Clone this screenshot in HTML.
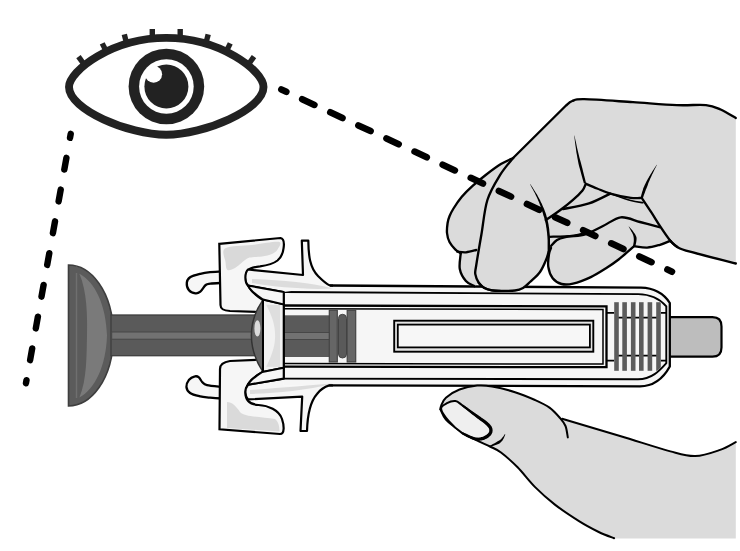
<!DOCTYPE html>
<html><head><meta charset="utf-8">
<style>
html,body{margin:0;padding:0;background:#fff;}
body{width:740px;height:551px;overflow:hidden;font-family:"Liberation Sans",sans-serif;}
svg{display:block;}
</style></head>
<body>
<svg width="740" height="551" viewBox="0 0 740 551">
<rect width="740" height="551" fill="#fff"/>

<!-- dashed line left -->
<path d="M70.73,133.84 L25.95,383.23" stroke="#000" stroke-width="6.4" stroke-linecap="round" stroke-dasharray="12 20.27" stroke-dashoffset="7.9" fill="none"/>

<!-- syringe -->
<path d="M68.5,265 C90,265 113,290 113.5,335.5 C113,381 90,406 68.5,406 Z" fill="#5b5b5b" stroke="#3e3e3e" stroke-width="1.6"/>
<path d="M79.4,273.8 C95,282 106,305 107,335.5 C106,366 95,389 79.4,397.5 C87,380 86.5,355 87,335.5 C87.5,316 87,291 79.4,273.8 Z" fill="#7a7a7a"/>
<path d="M76.5,273 L76.5,398" stroke="#6f6f6f" stroke-width="1.4"/>
<rect x="111" y="315" width="222" height="40.7" fill="#5a5a5a" stroke="#3e3e3e" stroke-width="1.3"/>
<rect x="111.7" y="332" width="220.6" height="7.2" fill="#727272" stroke="#474747" stroke-width="1"/>
<path d="M660,317.2 L712.5,317.2 Q721.5,317.2 721.5,326.5 L721.5,347.5 Q721.5,356.7 712.5,356.7 L660,356.7 Z" fill="#bdbdbd" stroke="#000" stroke-width="2.2"/>
<path d="M283.7,292 L330,285.5 L640.9,287.7 C655,288 664,294 669.8,303 L669.8,366.5 C664,377 655,386.3 640,386.3 L283.7,385.4 Z" fill="#f6f6f6"/>
<path d="M330,285.5 L640.9,287.7 C655,288 664,294 669.8,303 L669.8,366.5 C664,377 655,386.3 640,386.3 L329,385.4" fill="none" stroke="#000" stroke-width="2.3"/>
<path d="M283.7,292 L638.1,294.1 C650,294.3 660,299 666.3,306.3 L666.3,363.1 C660,370 652,379.3 638,379.3 L283.7,378.6" fill="none" stroke="#000" stroke-width="1.9"/>
<rect x="283.7" y="315.3" width="46" height="41.7" fill="#5a5a5a"/>
<rect x="283.7" y="332.5" width="46" height="7" fill="#727272" stroke="#474747" stroke-width="1"/>
<path d="M283.7,305.5 L606.5,306.3 L606.5,367.2 L283.7,366.7" fill="none" stroke="#000" stroke-width="2.3"/>
<path d="M283.7,308.8 L603,309.6 L603,364 L283.7,363.6" fill="none" stroke="#000" stroke-width="1.5"/>
<rect x="329.3" y="310.3" width="8" height="51.7" fill="#666" stroke="#444" stroke-width="1.2"/>
<rect x="338.5" y="314.3" width="8" height="43.7" rx="4" fill="#5a5a5a" stroke="#444" stroke-width="1"/>
<rect x="347.2" y="310.3" width="8.5" height="51.7" fill="#666" stroke="#444" stroke-width="1.2"/>
<rect x="394.2" y="320.7" width="199.1" height="31" fill="#e4e4e4" stroke="#000" stroke-width="1.9"/>
<rect x="397.8" y="324.6" width="192.1" height="22.8" fill="#f7f7f7" stroke="#000" stroke-width="1.8"/>
<defs><clipPath id="ribclip"><path d="M600,295 L638.1,295.1 C650,295.3 659.5,300 665.3,307 L665.3,362.6 C659.5,369 652,378.3 638,378.3 L600,378 Z"/></clipPath></defs>
<path d="M606.6,312.8 L614.2,312.8 M660.8,312.8 L666,312.8 M606.6,360.7 L614.2,360.7 M660.8,360.7 L666,360.7" stroke="#000" stroke-width="1.7"/>
<path d="M618,317.6 L657,317.6 M618,355.6 L657,355.6" stroke="#000" stroke-width="1.8"/>

<g fill="#5c5c5c" clip-path="url(#ribclip)"><rect x="614.2" y="302.2" width="4.6" height="68.6"/><rect x="622.3" y="302.2" width="4.6" height="68.6"/><rect x="630.9" y="302.2" width="4.6" height="68.6"/><rect x="639.0" y="302.2" width="4.6" height="68.6"/><rect x="647.6" y="302.2" width="4.6" height="68.6"/><rect x="656.2" y="302.2" width="4.6" height="68.6"/></g>
<path d="M283.7,292 L283.7,378.6" stroke="#000" stroke-width="2.2"/>
<path d="M222.0,271.3 C220.0,271.4 213.6,271.8 210.0,272.2 C206.4,272.6 203.6,273.0 200.3,273.8 C197.0,274.6 192.3,275.7 190.1,277.2 C187.8,278.7 187.0,280.5 186.8,282.6 C186.6,284.7 187.4,288.2 188.8,290.0 C190.2,291.8 193.6,293.1 195.5,293.4 C197.4,293.7 198.6,293.1 200.3,291.7 C202.0,290.3 204.0,286.4 205.7,285.0 C207.4,283.6 207.7,284.0 210.4,283.6 C213.1,283.2 220.1,283.0 222.0,282.9" fill="#f6f6f6" stroke="#000" stroke-width="2.3"/>
<path d="M222.0,387.0 C219.5,386.7 210.3,386.0 207.0,385.2 C203.7,384.4 203.7,383.5 202.3,382.2 C201.0,380.9 200.1,378.4 198.9,377.4 C197.7,376.4 196.6,375.9 194.9,376.4 C193.2,376.8 190.2,378.4 188.8,380.1 C187.4,381.9 186.2,384.8 186.4,386.9 C186.6,389.0 187.8,391.4 190.1,393.0 C192.4,394.6 197.0,395.6 200.3,396.4 C203.6,397.2 206.4,397.2 210.0,397.6 C213.6,398.0 220.0,398.4 222.0,398.5" fill="#f6f6f6" stroke="#000" stroke-width="2.3"/>
<path d="M219.3,243.8 L280.5,238 C283.5,238.5 284.3,243 283.6,248 C283,254 280.5,258 277.5,260.5 C273,264 268,265.3 260,266.3 C253,267 249,268.5 247.4,270.8 C246,273 246.3,276 246.5,278 C246.5,287 253,294 263,300 L263,312 L230,311 C223,310.5 220.5,309 220.5,305 Z" fill="#f6f6f6" stroke="#000" stroke-width="2.2"/>
<path d="M225.3,248.3 C229.7,245.5 243.1,246.1 252.0,245.0 C260.9,243.9 274.4,241.1 278.6,241.8 C282.9,242.6 278.6,247.5 277.5,249.5 C276.4,251.5 274.6,252.8 272.0,254.0 C269.4,255.2 265.8,255.9 262.0,256.5 C258.2,257.1 252.7,256.6 249.4,257.6 C246.1,258.6 244.4,260.8 242.0,262.5 C239.6,264.2 237.4,266.8 235.0,268.0 C232.6,269.2 229.1,271.0 227.5,270.0 C225.9,269.0 225.9,265.6 225.5,262.0 C225.1,258.4 220.9,251.1 225.3,248.3 Z" fill="#d9d9d9"/>
<path d="M263,359.5 L230,361 C223,362 220,365 220,369 L219.5,429.3 L280,434 C285,434 284,425 282,419 C279,410 268,405.5 258.5,405 C250,404.5 245.5,401 245.5,393 C245.5,384 253,377 263,372 Z" fill="#f6f6f6" stroke="#000" stroke-width="2.2"/>
<path d="M227,402 C232,402 236,406 240,412 C244,417 262,417 275,419 C279,422 279.5,428 279.5,431.5 L227,428 Z" fill="#dadada"/>
<path d="M262.5,300.6 C256,310 251.4,322 251.4,335.5 C251.4,349 256,361 262.5,371" fill="#636363" stroke="#333" stroke-width="1.5"/>
<ellipse cx="257.4" cy="328.4" rx="3" ry="8.2" fill="#dadada"/>
<path d="M263,299.5 L283.7,304.4 L283.7,367.8 L263,371.9 Z" fill="#f2f2f2" stroke="#000" stroke-width="2"/>
<path d="M266.2,304.7 C273,318 275.1,326 275.1,335.5 C275.1,345 273,353 266.2,366.8 L280,367 L280,305 Z" fill="#dedede"/>
<path d="M248,269.5 L303,275 L301.8,240.6 L308.3,240.6 C308.5,256 310,268 318,276 C322,280 326,284 330,285.5 L333,285.6 L283.7,292 L248,285.6 C244.5,282 244.5,273 248,269.5 Z" fill="#f6f6f6"/>
<path d="M252,279 C280,280 312,283 333,288.5 C305,290 275,287 252,283 Z" fill="#dcdcdc"/>
<path d="M333,285.6 L330,285.5 C326,284 322,280 318,276 C310,268 308.5,256 308.3,240.6 L301.8,240.6 L303,275 L248,269.5 C244.5,273 244.5,282 248,285.6 L283.7,292" fill="none" stroke="#000" stroke-width="2.2" stroke-linejoin="round"/>
<path d="M248,285.6 L283.7,292 L283.7,304.4 L263,299.5 C256,295 250,290 248,285.6 Z" fill="#f6f6f6" stroke="#000" stroke-width="2"/>
<path d="M248,384.7 L283.7,378.6 L283.7,385.5 L332,385.5 L329.2,385.4 C324,387 320,390 317,394 C310,402 307.5,414 307,431 L300.5,431 L302.2,396.6 L248,399.4 C244.5,395 244.5,389 248,384.7 Z" fill="#f6f6f6"/>
<path d="M250,390 C280,388 312,385 333,383.5 C305,391 275,393 250,394 Z" fill="#dcdcdc"/>
<path d="M333,385.5 L329.2,385.4 C324,387 320,390 317,394 C310,402 307.5,414 307,431 L300.5,431 L302.2,396.6 L248,399.4 C244.5,395 244.5,389 248,384.7 L283.7,378.6" fill="none" stroke="#000" stroke-width="2.2" stroke-linejoin="round"/>
<path d="M248,384.7 L283.7,378.6 L283.7,367.8 L262.3,371.9 C256,376 250,380 248,384.7 Z" fill="#f6f6f6" stroke="#000" stroke-width="2"/>
<!-- upper hand -->
<path d="M513.1,158 L566,105.5 C567.0,104.8 569.2,102.0 572.2,101.0 C575.2,100.0 574.2,99.0 584.3,99.2 C594.4,99.4 617.6,101.2 633.0,102.2 C648.4,103.2 664.6,104.6 676.8,105.1 C689.0,105.6 698.7,104.4 706.0,105.1 C713.3,105.8 715.6,107.3 720.6,109.5 C725.6,111.7 733.3,116.6 735.8,118.0 L735.8,263.5 C728.2,261.5 699.8,254.5 690.0,251.7 C680.2,248.9 680.4,248.7 677.1,246.9 C673.8,245.1 671.4,241.8 670.3,240.8 C668.6,241.5 663.9,243.7 660.0,244.8 C656.1,245.9 651.4,247.4 647.1,247.6 C642.8,247.8 636.4,246.4 634.2,246.2 C631.6,248.4 623.3,255.8 618.6,259.5 C613.9,263.2 610.6,265.3 606.0,268.2 C601.4,271.1 596.3,274.5 590.8,277.1 C585.3,279.7 577.9,282.5 573.0,283.6 C568.1,284.8 565.0,284.9 561.6,284.0 C558.2,283.1 554.9,281.2 552.7,278.3 C550.5,275.4 548.9,270.9 548.3,266.9 C547.7,262.8 548.5,257.1 549.0,254.0 C549.5,250.8 550.7,249.0 551.0,248.0 L548.5,252 C548.1,253.2 547.7,256.0 546.3,259.3 C544.9,262.6 542.7,268.2 540.0,272.0 C537.3,275.8 532.8,279.3 530.0,282.0 C527.2,284.7 525.5,286.6 523.0,288.0 C520.5,289.4 518.8,290.0 515.0,290.5 C511.2,291.0 503.8,290.9 500.0,290.9 C496.2,290.9 494.7,290.9 492.0,290.4 C489.3,289.9 486.2,289.1 484.0,287.8 C481.8,286.5 479.7,283.6 478.8,282.8 L474.5,286.2 C473.1,285.3 468.3,283.9 465.9,281.0 C463.4,278.1 460.7,273.6 459.8,269.0 C458.9,264.4 460.6,256.0 460.7,253.4 C459.8,252.7 457.1,251.2 455.2,249.3 C453.3,247.4 450.9,244.7 449.5,242.0 C448.1,239.3 447.3,236.2 447.0,233.0 C446.7,229.8 447.2,225.8 447.6,223.0 C448.0,220.2 448.6,218.4 449.6,216.0 C450.6,213.6 451.5,211.7 453.5,208.5 C455.5,205.3 458.6,200.6 461.8,196.8 C465.0,193.0 468.6,189.5 472.6,185.9 C476.6,182.3 481.0,178.6 485.7,175.0 C490.4,171.4 496.3,166.9 500.9,164.1 C505.5,161.3 511.1,159.0 513.1,158.0 Z" fill="#dbdbdb"/>
<g fill="none" stroke="#000" stroke-width="2.35" stroke-linecap="round" stroke-linejoin="round"><path d="M513.1,158 L566,105.5 C567.0,104.8 569.2,102.0 572.2,101.0 C575.2,100.0 574.2,99.0 584.3,99.2 C594.4,99.4 617.6,101.2 633.0,102.2 C648.4,103.2 664.6,104.6 676.8,105.1 C689.0,105.6 698.7,104.4 706.0,105.1 C713.3,105.8 715.6,107.3 720.6,109.5 C725.6,111.7 733.3,116.6 735.8,118.0"/><path d="M735.8,263.5 C728.2,261.5 699.8,254.5 690.0,251.7 C680.2,248.9 680.4,248.7 677.1,246.9 C673.8,245.1 671.4,241.8 670.3,240.8"/><path d="M670.3,240.8 C668.6,241.5 663.9,243.7 660.0,244.8 C656.1,245.9 651.4,247.4 647.1,247.6 C642.8,247.8 636.4,246.4 634.2,246.2"/><path d="M634.2,246.2 C631.6,248.4 623.3,255.8 618.6,259.5 C613.9,263.2 610.6,265.3 606.0,268.2 C601.4,271.1 596.3,274.5 590.8,277.1 C585.3,279.7 577.9,282.5 573.0,283.6 C568.1,284.8 565.0,284.9 561.6,284.0 C558.2,283.1 554.9,281.2 552.7,278.3 C550.5,275.4 548.9,270.9 548.3,266.9 C547.7,262.8 548.5,257.1 549.0,254.0 C549.5,250.8 550.7,249.0 551.0,248.0"/><path d="M548.5,252.0 C548.1,253.2 547.7,256.0 546.3,259.3 C544.9,262.6 542.7,268.2 540.0,272.0 C537.3,275.8 532.8,279.3 530.0,282.0 C527.2,284.7 525.5,286.6 523.0,288.0 C520.5,289.4 518.8,290.0 515.0,290.5 C511.2,291.0 503.8,290.9 500.0,290.9 C496.2,290.9 494.7,290.9 492.0,290.4 C489.3,289.9 486.2,289.1 484.0,287.8 C481.8,286.5 479.7,283.6 478.8,282.8"/><path d="M474.5,286.2 C473.1,285.3 468.3,283.9 465.9,281.0 C463.4,278.1 460.7,273.6 459.8,269.0 C458.9,264.4 460.6,256.0 460.7,253.4"/><path d="M460.7,253.4 C459.8,252.7 457.1,251.2 455.2,249.3 C453.3,247.4 450.9,244.7 449.5,242.0 C448.1,239.3 447.3,236.2 447.0,233.0 C446.7,229.8 447.2,225.8 447.6,223.0 C448.0,220.2 448.6,218.4 449.6,216.0 C450.6,213.6 451.5,211.7 453.5,208.5 C455.5,205.3 458.6,200.6 461.8,196.8 C465.0,193.0 468.6,189.5 472.6,185.9 C476.6,182.3 481.0,178.6 485.7,175.0 C490.4,171.4 496.3,166.9 500.9,164.1 C505.5,161.3 511.1,159.0 513.1,158.0"/><path d="M513.1,158.0 C510.9,160.8 504.3,168.1 500.0,175.1 C495.7,182.1 490.5,190.1 487.4,200.0 C484.3,209.9 483.3,223.6 481.4,234.5 C479.5,245.4 477.2,258.9 476.2,265.5 C475.2,272.1 474.9,271.2 475.3,274.1 C475.7,277.0 477.4,280.5 478.8,282.8 C480.2,285.1 481.8,286.5 484.0,287.8 C486.2,289.1 489.3,289.9 492.0,290.4 C494.7,290.9 498.7,290.8 500.0,290.9"/><path d="M457.2,251.7 C458.7,251.8 462.8,252.6 466.0,252.3 C469.2,252.0 474.5,250.4 476.2,250.0"/><path d="M585.8,183.8 C587.7,184.6 592.9,186.9 597.0,188.5 C601.1,190.1 604.7,192.0 610.3,193.6 C615.9,195.2 625.6,197.2 630.8,197.9 C636.0,198.6 639.9,197.9 641.7,197.9"/><path d="M610.3,193.6 C613.7,194.8 625.3,199.1 630.8,200.6 C636.2,202.1 641.0,202.3 643.0,202.7" stroke-width="1.6"/><path d="M585.8,183.8 C585.2,184.9 584.7,187.7 582.5,190.4 C580.3,193.1 576.5,196.9 572.7,200.2 C569.0,203.5 564.5,207.0 560.0,210.3 C555.5,213.6 548.2,218.5 545.8,220.1"/><path d="M562.9,209.1 C567.2,208.2 581.1,206.0 589.0,203.4 C596.9,200.8 606.8,195.2 610.3,193.6"/><path d="M641.7,197.9 C643.3,200.3 648.0,207.3 651.2,212.2 C654.4,217.1 657.5,222.4 660.7,227.2 C663.9,232.0 667.6,237.5 670.3,240.8 C673.0,244.1 676.0,245.9 677.1,246.9"/><path d="M549.5,236.8 C552.1,236.7 559.3,236.6 565.0,236.3 C570.7,236.0 577.2,236.6 583.5,234.9 C589.8,233.2 596.8,228.9 603.0,226.0 C609.2,223.1 614.6,218.0 620.8,217.3 C627.0,216.6 633.6,220.3 640.0,222.0 C646.4,223.7 656.2,226.3 659.4,227.2"/><path d="M551.0,246.0 C552.0,245.0 554.6,241.5 557.0,240.0 C559.4,238.5 562.4,237.8 565.4,237.1 C568.4,236.3 572.2,236.0 575.0,235.5 C577.8,235.0 580.8,234.2 581.9,233.9"/></g>
<path d="M574.2,135.6 L574.3,136.9 L574.6,138.6 L574.8,140.6 L575.1,142.8 L575.4,145.2 L575.8,147.7 L576.1,150.3 L576.5,152.9 L577.0,155.5 L577.4,157.9 L577.9,160.5 L578.4,163.3 L579.1,166.2 L579.9,169.1 L580.7,172.0 L581.5,174.9 L582.2,177.5 L582.8,179.8 L583.4,181.8 L583.8,183.3 L586.0,182.7 L585.6,181.2 L585.1,179.2 L584.5,176.9 L583.8,174.2 L583.1,171.4 L582.4,168.5 L581.6,165.5 L580.9,162.7 L580.1,160.0 L579.4,157.5 L578.8,155.1 L578.2,152.6 L577.6,150.0 L577.0,147.5 L576.5,145.0 L576.0,142.6 L575.5,140.4 L575.1,138.5 L574.7,136.9 L574.4,135.6 Z" fill="#000"/>
<path d="M530.1,184.2 L530.6,185.2 L531.2,186.4 L532.0,187.9 L532.9,189.6 L533.9,191.4 L534.9,193.3 L535.8,195.2 L536.8,197.2 L537.6,199.1 L538.4,200.9 L539.1,202.6 L539.8,204.4 L540.5,206.2 L541.1,208.1 L541.7,209.9 L542.3,211.8 L542.9,213.6 L543.4,215.4 L544.0,217.1 L544.5,218.9 L544.9,220.5 L545.3,222.2 L545.7,223.8 L546.0,225.4 L546.2,227.0 L546.5,228.6 L546.7,230.2 L546.9,231.8 L547.1,233.5 L547.2,235.1 L547.4,236.8 L547.5,238.7 L547.6,240.6 L547.6,242.6 L547.6,244.5 L547.6,246.4 L547.6,248.1 L547.6,249.7 L547.6,251.0 L547.7,252.0 L549.9,252.0 L549.9,251.0 L550.0,249.7 L550.0,248.1 L550.0,246.4 L550.0,244.5 L550.0,242.6 L550.0,240.6 L550.0,238.6 L549.9,236.7 L549.8,234.9 L549.6,233.2 L549.4,231.6 L549.3,229.9 L549.1,228.3 L548.8,226.6 L548.6,225.0 L548.3,223.3 L547.9,221.6 L547.6,219.9 L547.1,218.1 L546.6,216.4 L546.1,214.6 L545.5,212.7 L544.8,210.9 L544.1,209.1 L543.3,207.2 L542.5,205.4 L541.7,203.6 L540.8,201.9 L540.0,200.1 L539.1,198.4 L538.0,196.5 L537.0,194.6 L535.8,192.8 L534.7,190.9 L533.6,189.2 L532.6,187.6 L531.7,186.2 L530.9,185.0 L530.3,184.0 Z" fill="#000"/>
<path d="M656.7,164.7 L656.2,165.4 L655.6,166.4 L654.9,167.4 L654.1,168.7 L653.3,170.0 L652.4,171.3 L651.6,172.7 L650.7,174.1 L649.9,175.4 L649.2,176.6 L648.6,177.7 L647.9,178.8 L647.3,180.0 L646.7,181.1 L646.2,182.1 L645.6,183.2 L645.1,184.3 L644.6,185.3 L644.1,186.4 L643.6,187.5 L643.2,188.6 L642.9,189.7 L642.5,190.9 L642.1,192.1 L641.8,193.2 L641.5,194.3 L641.2,195.3 L641.0,196.2 L640.8,197.0 L640.6,197.5 L642.8,198.3 L643.0,197.7 L643.3,196.9 L643.6,196.1 L643.9,195.1 L644.3,194.0 L644.7,192.9 L645.1,191.8 L645.5,190.7 L645.9,189.6 L646.4,188.5 L646.8,187.5 L647.2,186.4 L647.6,185.4 L648.0,184.3 L648.4,183.1 L648.8,182.0 L649.3,180.9 L649.8,179.7 L650.3,178.6 L650.8,177.4 L651.4,176.2 L652.0,174.8 L652.7,173.4 L653.4,171.9 L654.1,170.4 L654.8,169.1 L655.5,167.8 L656.1,166.6 L656.6,165.6 L656.9,164.9 Z" fill="#000"/>
<path d="M628.7,226.6 L629.0,227.2 L629.5,228.1 L630.0,229.1 L630.7,230.2 L631.3,231.4 L632.0,232.6 L632.6,233.8 L633.1,235.0 L633.4,236.1 L633.6,237.0 L633.7,237.9 L633.8,238.8 L633.8,239.8 L633.8,240.9 L633.7,241.9 L633.5,242.9 L633.4,243.8 L633.2,244.7 L633.1,245.5 L633.1,246.1 L635.3,246.3 L635.4,245.8 L635.6,245.1 L635.8,244.3 L636.0,243.3 L636.2,242.3 L636.4,241.1 L636.5,240.0 L636.6,238.8 L636.5,237.5 L636.2,236.4 L635.6,235.2 L635.0,234.1 L634.2,232.9 L633.3,231.7 L632.5,230.6 L631.6,229.6 L630.7,228.6 L630.0,227.7 L629.4,227.0 L628.9,226.4 Z" fill="#000"/>
<!-- dashed line right -->
<path d="M281.34,89.47 L672,271.7" stroke="#000" stroke-width="6.6" stroke-linecap="round" stroke-dasharray="13.5 17.5" stroke-dashoffset="8" fill="none"/>

<!-- lower hand -->
<path d="M440.4,409.3 C440.5,408.7 440.2,407.8 441.1,405.9 C442.0,404.0 442.8,400.4 445.9,397.7 C449.0,395.0 454.3,391.5 459.5,389.5 C464.7,387.5 471.8,386.1 477.2,385.6 C482.6,385.1 485.8,385.4 492.1,386.5 C498.4,387.6 507.9,389.9 515.0,392.2 C522.1,394.4 529.2,397.4 535.0,400.0 C540.8,402.6 545.0,404.5 549.5,407.6 C554.0,410.7 560.0,416.9 562.1,418.8 L562.1,418.8 C571.8,421.7 602.0,430.6 620.0,436.0 C638.0,441.4 657.9,448.0 670.4,451.4 C682.9,454.8 687.0,456.4 695.3,456.1 C703.6,455.9 713.4,452.2 720.1,449.9 C726.9,447.6 733.2,443.4 735.8,442.1 L735.8,538.4 L614.1,538.4 C611.5,537.2 604.6,534.9 598.7,532.0 C592.9,529.1 586.3,525.7 579.0,521.1 C571.7,516.5 562.2,510.3 554.9,504.6 C547.6,498.9 541.3,493.3 535.1,487.1 C528.9,480.9 523.3,473.1 517.6,467.3 C511.9,461.5 505.6,456.0 501.0,452.5 C496.4,449.0 494.2,448.6 490.0,446.5 C485.8,444.4 480.9,442.6 475.8,439.9 C470.7,437.2 464.5,433.7 459.5,430.3 C454.5,426.9 449.1,423.0 445.9,419.5 C442.7,416.0 441.3,411.0 440.4,409.3 Z" fill="#dbdbdb"/>
<g fill="none" stroke="#000" stroke-width="2.0" stroke-linecap="round"><path d="M440.4,409.3 C440.5,408.7 440.2,407.8 441.1,405.9 C442.0,404.0 442.8,400.4 445.9,397.7 C449.0,395.0 454.3,391.5 459.5,389.5 C464.7,387.5 471.8,386.1 477.2,385.6 C482.6,385.1 485.8,385.4 492.1,386.5 C498.4,387.6 507.9,389.9 515.0,392.2 C522.1,394.4 529.2,397.4 535.0,400.0 C540.8,402.6 545.3,404.6 549.5,407.6 C553.7,410.6 557.3,414.9 560.0,418.0 C562.7,421.1 564.2,422.8 565.5,426.0 C566.8,429.2 567.4,435.5 567.8,437.4"/><path d="M562.1,418.8 C571.8,421.7 602.0,430.6 620.0,436.0 C638.0,441.4 657.9,448.0 670.4,451.4 C682.9,454.8 687.0,456.4 695.3,456.1 C703.6,455.9 713.4,452.2 720.1,449.9 C726.9,447.6 733.2,443.4 735.8,442.1"/><path d="M614.1,538.2 C611.5,537.2 604.6,534.9 598.7,532.0 C592.9,529.1 586.3,525.7 579.0,521.1 C571.7,516.5 562.2,510.3 554.9,504.6 C547.6,498.9 541.3,493.3 535.1,487.1 C528.9,480.9 523.3,473.1 517.6,467.3 C511.9,461.5 505.6,456.0 501.0,452.5 C496.4,449.0 494.2,448.6 490.0,446.5 C485.8,444.4 480.9,442.6 475.8,439.9 C470.7,437.2 464.5,433.7 459.5,430.3 C454.5,426.9 449.1,423.0 445.9,419.5 C442.7,416.0 441.3,411.0 440.4,409.3"/></g>
<path d="M441.1,408.8 C440.8,405.9 444.6,404.5 447.0,403.2 C449.4,401.9 452.9,400.8 455.4,401.1 C457.9,401.4 458.8,402.8 462.2,405.2 C465.6,407.6 471.7,412.3 475.8,415.4 C479.9,418.4 484.2,421.2 486.7,423.5 C489.2,425.8 490.4,427.2 490.8,429.0 C491.2,430.8 490.8,432.8 489.4,434.4 C488.0,436.0 485.1,437.8 482.6,438.5 C480.1,439.2 477.9,439.6 474.5,438.7 C471.1,437.8 466.5,436.1 462.2,433.1 C457.9,430.1 452.1,424.9 448.6,420.8 C445.1,416.8 441.4,411.7 441.1,408.8 Z" fill="#efefef" stroke="#000" stroke-width="2" stroke-linejoin="round"/>
<path d="M461.6,406.0 L462.4,406.6 L463.5,407.5 L464.7,408.5 L466.1,409.6 L467.6,410.7 L469.2,412.0 L470.7,413.2 L472.2,414.4 L473.7,415.5 L475.0,416.5 L476.2,417.5 L477.4,418.4 L478.6,419.3 L479.8,420.2 L480.9,421.0 L482.0,421.8 L483.1,422.6 L484.0,423.3 L484.9,424.0 L485.6,424.7 L486.3,425.3 L486.9,425.9 L487.4,426.5 L487.9,427.0 L488.2,427.4 L488.5,427.8 L488.8,428.2 L488.9,428.6 L489.1,429.0 L489.2,429.4 L489.3,429.8 L489.3,430.2 L489.3,430.6 L489.3,431.0 L489.2,431.4 L489.1,431.8 L488.9,432.2 L488.7,432.6 L488.4,432.9 L488.1,433.3 L487.8,433.7 L487.3,434.1 L486.8,434.5 L486.2,434.9 L485.5,435.3 L484.9,435.7 L484.2,436.1 L483.5,436.4 L482.8,436.7 L482.1,436.9 L481.4,437.1 L480.8,437.3 L480.1,437.4 L479.5,437.5 L478.8,437.6 L478.1,437.7 L477.4,437.6 L476.6,437.6 L475.8,437.5 L474.9,437.3 L473.9,437.0 L472.6,436.6 L471.3,436.0 L469.9,435.4 L468.4,434.8 L467.0,434.1 L465.7,433.5 L464.5,432.9 L463.4,432.5 L462.7,432.1 L461.7,434.1 L462.5,434.5 L463.4,435.0 L464.6,435.6 L465.9,436.3 L467.3,437.1 L468.7,437.8 L470.2,438.5 L471.6,439.2 L472.9,439.7 L474.1,440.1 L475.2,440.4 L476.2,440.6 L477.2,440.7 L478.1,440.8 L479.0,440.8 L479.8,440.7 L480.7,440.6 L481.5,440.5 L482.3,440.3 L483.1,440.1 L483.9,439.9 L484.8,439.5 L485.6,439.1 L486.5,438.7 L487.3,438.2 L488.1,437.7 L488.8,437.2 L489.5,436.6 L490.1,436.1 L490.7,435.5 L491.1,434.9 L491.5,434.2 L491.9,433.6 L492.2,432.9 L492.4,432.2 L492.5,431.5 L492.6,430.8 L492.6,430.0 L492.5,429.3 L492.4,428.6 L492.2,427.9 L491.9,427.3 L491.6,426.6 L491.3,426.0 L490.8,425.4 L490.3,424.8 L489.8,424.2 L489.2,423.6 L488.5,423.0 L487.8,422.3 L486.9,421.6 L486.0,420.8 L485.0,420.0 L483.9,419.3 L482.8,418.5 L481.6,417.7 L480.4,416.8 L479.1,416.0 L477.9,415.1 L476.6,414.3 L475.3,413.3 L473.8,412.3 L472.3,411.2 L470.6,410.0 L469.0,408.9 L467.5,407.7 L466.0,406.7 L464.7,405.8 L463.6,405.0 L462.8,404.4 Z" fill="#000"/>
<path d="M489.7,447.2 L490.4,447.0 L491.3,446.6 L492.4,446.3 L493.6,445.8 L495.0,445.3 L496.4,444.8 L497.7,444.2 L499.0,443.7 L500.1,442.9 L501.0,442.1 L501.8,441.3 L502.5,440.5 L503.0,439.6 L503.5,438.7 L504.0,437.8 L504.3,437.0 L504.6,436.2 L504.9,435.5 L505.1,435.0 L505.4,434.6 L504.8,434.2 L504.5,434.6 L504.2,435.1 L503.8,435.7 L503.3,436.4 L502.8,437.1 L502.2,437.8 L501.6,438.5 L501.0,439.2 L500.3,439.8 L499.6,440.3 L498.7,440.7 L497.7,441.3 L496.6,442.0 L495.4,442.7 L494.1,443.4 L492.9,444.1 L491.7,444.7 L490.7,445.3 L489.8,445.8 L489.1,446.2 Z" fill="#000"/>
<!-- eye -->
<path d="M69,87 C69,70.8 112.3,37.9 166.25,37.9 C220.2,37.9 263.5,70.8 263.5,87 C263.5,109.5 204.1,134.75 166.25,134.75 C128.4,134.75 69,109.5 69,87 Z" fill="#fff" stroke="#222" stroke-width="7.9"/>
<g stroke="#222" stroke-width="5.4">
<path d="M84.3,64.8 L78.5,56.6"/>
<path d="M106.7,52.3 L102.2,43.4"/>
<path d="M126.7,43.7 L124.3,34.4"/>
<path d="M152.3,38 L152.3,29"/>
<path d="M180.2,38 L180.2,29"/>
<path d="M205.8,43.7 L208.2,34.4"/>
<path d="M225.8,52.3 L230.3,43.4"/>
<path d="M248.2,64.8 L254,56.6"/>
</g>
<circle cx="166.4" cy="86.5" r="37.8" fill="#222"/>
<circle cx="166.4" cy="86.5" r="27.3" fill="#fff"/>
<circle cx="166.4" cy="86.5" r="22" fill="#222"/>
<circle cx="153.6" cy="74.3" r="8.5" fill="#fff"/>
</svg>
</body></html>
